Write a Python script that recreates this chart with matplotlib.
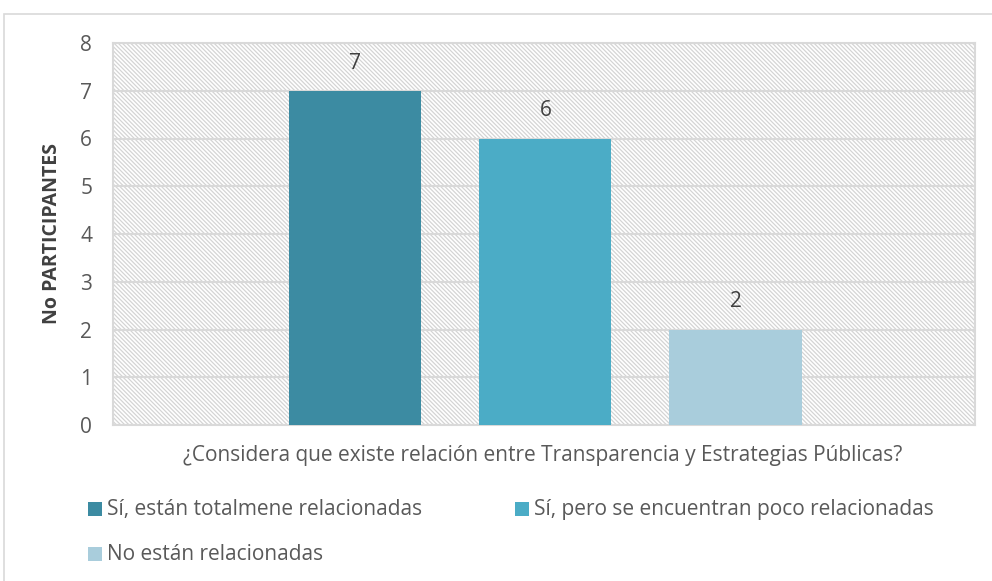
import matplotlib.pyplot as plt
from matplotlib.patches import Rectangle

# Data
series = ['Sí, están totalmene relacionadas',
          'Sí, pero se encuentran poco relacionadas',
          'No están relacionadas']
values = [7, 6, 2]
colors = ['#3C8BA2', '#4BACC6', '#A9CDDC']
question = '¿Considera que existe relación entre Transparencia y Estrategias Públicas?'

plt.rcParams['font.family'] = ['Open Sans', 'DejaVu Sans']
plt.rcParams['hatch.color'] = '#d4d4d4'
plt.rcParams['hatch.linewidth'] = 0.9

fs = 15
fig = plt.figure(figsize=(9.92, 5.81), dpi=100)
W, H = 992, 581
ax = fig.add_axes([113 / W, 1 - 425 / H, (975 - 113) / W, (425 - 43) / H])

# outer chart frame
fig.patches.append(Rectangle((4 / W, -0.1), 1.2, 1 - 14 / H + 0.1,
                             transform=fig.transFigure, fill=False,
                             edgecolor='#d9d9d9', lw=1.2))

# hatched plot background
ax.set_facecolor('white')
ax.add_patch(Rectangle((0, 0), 1, 1, transform=ax.transAxes, facecolor='white',
                       edgecolor='#d4d4d4', hatch='\\' * 8, lw=0, zorder=0))

pos = list(range(len(values)))
bars = ax.bar(pos, values, width=0.695, color=colors, zorder=3)
for p, v in zip(pos, values):
    ax.text(p, v + 0.36, str(v), ha='center', va='bottom', fontsize=fs,
            color='#404040', zorder=4)

ax.set_xlim(-1.275, 3.26)
ax.set_ylim(0, 8)
ax.set_yticks(range(0, 9))
ax.set_xticks([])
ax.yaxis.grid(True, color='#d9d9d9', lw=1.5, zorder=1)
ax.set_axisbelow(True)
ax.tick_params(axis='y', length=0, labelsize=fs, labelcolor='#595959', pad=15)
for s in ax.spines.values():
    s.set_color('#d9d9d9')
    s.set_linewidth(1.5)

ax.set_ylabel('No PARTICIPANTES', fontsize=14, fontweight='bold',
              color='#404040', labelpad=13)
fig.text(543 / W, 1 - 455 / H, question, ha='center', va='center',
         fontsize=fs, color='#595959')

# legend
leg_pos = [(88, 509), (515, 509), (88, 554)]
for (lx, ly), name, c in zip(leg_pos, series, colors):
    fig.patches.append(Rectangle((lx / W, 1 - (ly + 7) / H), 14 / W, 14 / H,
                                 transform=fig.transFigure, facecolor=c,
                                 edgecolor='none'))
    fig.text((lx + 19) / W, 1 - ly / H, name, ha='left', va='center',
             fontsize=fs, color='#595959')

fig.savefig('out.png', dpi=100)
